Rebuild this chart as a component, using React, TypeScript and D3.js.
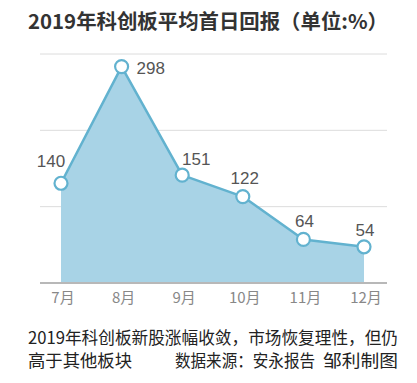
import React, { useEffect } from "react";
import * as d3 from "d3";

const months = ["7月", "8月", "9月", "10月", "11月", "12月"];
const returns = [140, 298, 151, 122, 64, 54];
const title = "2019年科创板平均首日回报（单位:%）";
const captionLine1 = "2019年科创板新股涨幅收敛，市场恢复理性，但仍";
const captionLine2a = "高于其他板块";
const captionLine2b = "数据来源：安永报告";
const captionLine2c = "邹利制图";

// label placement styles per point
const labelPlacement = [
  { anchor: "middle", dx: -10, dy: -16 },
  { anchor: "start", dx: 15, dy: 7 },
  { anchor: "middle", dx: 14, dy: -10 },
  { anchor: "middle", dx: 2, dy: -13 },
  { anchor: "middle", dx: 1, dy: -12 },
  { anchor: "middle", dx: 1, dy: -11 },
];

const W = 417;
const H = 383;
const FONT = "'Noto Sans CJK SC', 'Noto Sans', sans-serif";

export default function App() {
  useEffect(() => {
    document.body.style.margin = "0";
  }, []);

  const x = d3
    .scalePoint<string>()
    .domain(months)
    .range([61, 364]);
  const y = d3.scaleLinear().domain([5, 315]).range([283, 54]);
  const [d0, d1] = y.domain();
  const grid = d3.range(4).map((i) => d0 + (i * (d1 - d0)) / 3);

  const pts = months.map((m, i) => [x(m) as number, y(returns[i])] as [number, number]);
  const area = d3
    .area<[number, number]>()
    .x((d) => d[0])
    .y0(y(d0))
    .y1((d) => d[1])(pts) as string;
  const line = d3.line<[number, number]>()(pts) as string;

  const captionStyle = {
    fontFamily: FONT,
    fontSize: 17,
    fill: "#222",
    lengthAdjust: "spacingAndGlyphs",
  } as const;

  return (
    <svg width={W} height={H} style={{ display: "block", background: "#fff" }}>
      <text
        x={28}
        y={29}
        fontFamily={FONT}
        fontWeight="bold"
        fontSize={20}
        fill="#333"
        textLength={360}
        lengthAdjust="spacingAndGlyphs"
      >
        {title}
      </text>
      {grid.map((g, i) => (
        <line
          key={i}
          x1={40}
          x2={387}
          y1={y(g)}
          y2={y(g)}
          stroke={i === 0 ? "#b8b8b8" : "#dcdcdc"}
          strokeWidth={i === 0 ? 2 : 1}
        />
      ))}
      <path d={area} fill="#a8d3e6" />
      <line x1={40} x2={387} y1={y(d0)} y2={y(d0)} stroke="#b8b8b8" strokeWidth={2} />
      <path d={line} fill="none" stroke="#62b2cf" strokeWidth={2.5} strokeLinejoin="round" />
      {pts.map((p, i) => (
        <circle key={i} cx={p[0]} cy={p[1]} r={6.5} fill="#fff" stroke="#62b2cf" strokeWidth={2.2} />
      ))}
      {pts.map((p, i) => (
        <text
          key={"l" + i}
          x={p[0] + labelPlacement[i].dx}
          y={p[1] + labelPlacement[i].dy}
          textAnchor={labelPlacement[i].anchor}
          fontFamily="'Liberation Sans', Arial, sans-serif"
          fontSize={17}
          fill="#555"
        >
          {returns[i]}
        </text>
      ))}
      {months.map((m) => (
        <text
          key={m}
          x={(x(m) as number) + 2}
          y={303}
          textAnchor="middle"
          fontFamily={FONT}
          fontSize={15}
          fill="#888"
        >
          {m}
        </text>
      ))}
      <text x={28} y={344} {...captionStyle} textLength={370}>
        {captionLine1}
      </text>
      <text x={28} y={367} {...captionStyle} textLength={104}>
        {captionLine2a}
      </text>
      <text x={175} y={367} {...captionStyle} textLength={140}>
        {captionLine2b}
      </text>
      <text x={323} y={367} {...captionStyle} textLength={75}>
        {captionLine2c}
      </text>
    </svg>
  );
}
